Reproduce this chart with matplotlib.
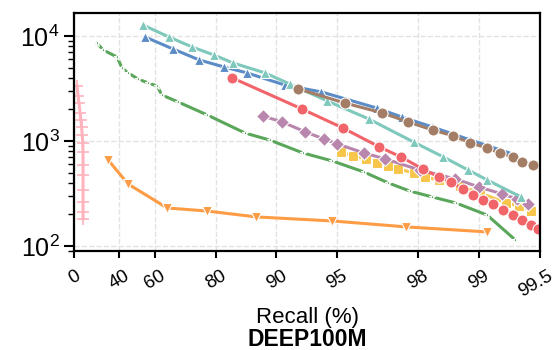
import numpy as np
import matplotlib
matplotlib.use("Agg")
import matplotlib.pyplot as plt

plt.rcParams['font.family'] = ['Liberation Sans', 'DejaVu Sans']

# recall (%) vs. query cost, one pair of lists per method
teal_x = [54.4, 66.0, 73.9, 79.6, 83.6, 88.6, 91.4, 94.4, 96.5, 97.9, 98.5, 98.87, 99.09, 99.38]
teal_y = [12700, 9780, 7850, 6590, 5530, 4450, 3490, 2400, 1620, 977, 705, 529, 425, 293]

blue_x = [55.4, 67.6, 75.9, 81.8, 86.0, 90.9, 94.0, 96.8, 97.6, 98.3, 98.9, 99.34]
blue_y = [9780, 7510, 5910, 5070, 4450, 3410, 2930, 2060, 1690, 1360, 1020, 736]

brown_x = [92.2, 95.4, 97.0, 97.76, 98.31, 98.66, 98.90, 99.09, 99.21, 99.32, 99.39, 99.46]
brown_y = [3130, 2300, 1850, 1520, 1270, 1120, 957, 858, 769, 705, 631, 591]

red_x = [83.4, 92.5, 95.3, 96.9, 97.57, 98.11, 98.42, 98.62, 98.80, 98.93, 99.05, 99.15,
         99.24, 99.32, 99.39, 99.45, 99.49]
red_y = [4000, 2020, 1330, 877, 705, 541, 454, 407, 349, 306, 274, 251,
         220, 197, 177, 158, 145]

purple_x = [88.3, 90.6, 92.8, 94.2, 95.0, 96.3, 97.1, 98.04, 98.69, 99.0, 99.23, 99.35, 99.43]
purple_y = [1730, 1520, 1220, 1040, 936, 769, 674, 529, 435, 365, 313, 281, 251]

yellow_x = [95.2, 95.8, 96.4, 96.8, 97.2, 97.5, 97.9, 98.15, 98.42, 98.76, 99.01, 99.27, 99.37, 99.45]
yellow_y = [786, 720, 674, 617, 578, 541, 496, 454, 425, 373, 320, 257, 240, 215]

green_x = [23.0, 28.1, 38.6, 42.1, 45.9, 51.7, 56.9, 61.1, 63.2, 69.4, 78.0, 85.7, 89.2,
           92.6, 94.7, 96.3, 97.2, 97.8, 98.3, 98.7, 99.09, 99.34]
green_y = [8570, 7360, 6310, 4950, 4450, 3890, 3570, 3340, 2740, 2350, 1770, 1190, 1020,
           769, 645, 507, 398, 334, 293, 257, 197, 114]

orange_x = [32.1, 45.9, 65.3, 78.0, 87.4, 94.7, 97.7, 99.09]
orange_y = [659, 389, 230, 215, 189, 173, 152, 136]

pink_x = [3.3, 4.5, 5.5, 6.6, 7.5, 8.2, 8.8, 9.4, 9.7, 9.7, 9.7, 9.7, 9.7, 9.7, 9.7]
pink_y = [3340, 2680, 2300, 1850, 1585, 1360, 1140, 957, 786, 591, 474, 342, 262, 211, 181]

xticks = [0, 40, 60, 80, 90, 95, 98, 99, 99.5]
xtick_labels = ['0', '40', '60', '80', '90', '95', '98', '99', '99.5']


def fwd(x):
    x = np.clip(np.asarray(x, dtype=float), -1e9, 99.9999)
    return -np.log10(1 - x / 100.0)


def inv(u):
    return 100.0 * (1 - 10 ** (-np.asarray(u, dtype=float)))


fig = plt.figure(figsize=(5.57, 3.5), dpi=100)
ax = fig.add_axes([0.133, 0.283, 0.836, 0.68])

series = [
    (green_x, green_y, '#5aa65a', '*', 4.5),
    (orange_x, orange_y, '#fd9c45', 'v', 7),
    (pink_x, pink_y, '#ffb3bd', '+', 9),
    (yellow_x, yellow_y, '#f6c54a', 's', 7),
    (purple_x, purple_y, '#b986ae', 'D', 7),
    (red_x, red_y, '#f1646a', 'o', 8),
    (blue_x, blue_y, '#5b8cc6', '^', 7),
    (teal_x, teal_y, '#7ec8bc', '^', 7),
    (brown_x, brown_y, '#a47d66', 'o', 8),
]
for xs, ys, c, m, ms in series:
    ax.plot(xs, ys, color=c, marker=m, markersize=ms, linewidth=2.2,
            markeredgecolor='white' if m != '+' else c, markeredgewidth=0.8 if m != '+' else 1.2)

ax.set_xscale('function', functions=(fwd, inv))
ax.set_yscale('log')
ax.set_xlim(0, 99.5)
ax.set_ylim(89.6, 16560)

ax.set_xticks(xticks)
# last label is drawn by hand, nudged left so it stays inside the figure
ax.set_xticklabels(xtick_labels[:-1] + [''], rotation=30, ha='center', fontsize=13.5)
ax.annotate(xtick_labels[-1], xy=(xticks[-1], 0), xycoords=('data', 'axes fraction'),
            xytext=(-3, -12), textcoords='offset points', rotation=30,
            ha='center', va='top', fontsize=13.5, annotation_clip=False)
ax.xaxis.set_minor_locator(matplotlib.ticker.NullLocator())
ax.tick_params(axis='y', which='major', labelsize=18, length=7, width=1.5)
ax.tick_params(axis='y', which='minor', length=4, width=1.0)
ax.tick_params(axis='x', which='major', length=5, width=1.5, pad=7)

ax.grid(True, which='major', linestyle='--', color='#e2e2e2', linewidth=1.0)
ax.set_axisbelow(True)
for s in ax.spines.values():
    s.set_linewidth(1.6)

fig.text(0.552, 0.077, 'Recall (%)', ha='center', va='baseline', fontsize=16)
fig.text(0.552, 0.012, 'DEEP100M', ha='center', va='baseline', fontsize=16.5, fontweight='bold')

fig.savefig('out.png', dpi=100)
